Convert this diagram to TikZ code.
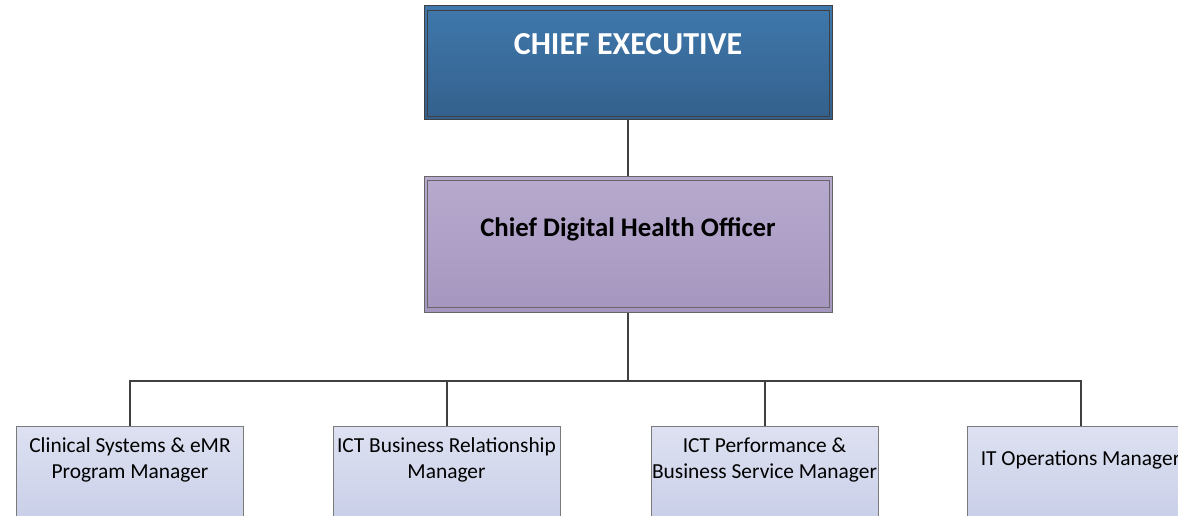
\documentclass[tikz,border=0pt]{standalone}
\usepackage{fontspec}
\setmainfont{Carlito}
\definecolor{lineg}{HTML}{404040}
\definecolor{ceTop}{HTML}{3F78AC}
\definecolor{ceBot}{HTML}{34608C}
\definecolor{cdTop}{HTML}{B7AACE}
\definecolor{cdBot}{HTML}{A596BF}
\definecolor{mgTop}{HTML}{DDE1F1}
\definecolor{mgBot}{HTML}{C6CCE7}
\definecolor{boxb}{HTML}{7A7A7A}
\tikzset{
  conn/.style={draw=lineg, line width=2pt},
  cebox/.style={draw=lineg, line width=1pt, top color=ceTop, bottom color=ceBot, minimum width=408pt, minimum height=114pt, inner sep=0pt},
  cdbox/.style={draw=lineg!80, line width=1pt, top color=cdTop, bottom color=cdBot, minimum width=408pt, minimum height=136pt, inner sep=0pt},
  inner/.style={draw=lineg, line width=0.9pt},
  mgbox/.style={draw=boxb, line width=0.8pt, top color=mgTop, bottom color=mgBot, minimum width=227pt, minimum height=110pt, inner sep=0pt},
  mgtext/.style={align=center, font=\fontsize{21.4pt}{25.5pt}\selectfont, inner sep=0pt},
}
\begin{document}
\begin{tikzpicture}[x=1pt,y=-1pt]
\useasboundingbox (0,0) rectangle (1178,516);
\clip (0,0) rectangle (1178,516);
% top boxes
\node[cebox] (ce) at (628,63) {};
\draw[inner] ([shift={(4pt,-5pt)}]ce.north west) rectangle ([shift={(-3pt,4pt)}]ce.south east);
\node[text=white, font=\fontsize{32pt}{36pt}\selectfont\bfseries] (cet) at (628,44.5) {CHIEF EXECUTIVE};
\node[cdbox] (cd) at (628,244) {};
\draw[inner, draw=lineg!80] ([shift={(4pt,-5pt)}]cd.north west) rectangle ([shift={(-3pt,5pt)}]cd.south east);
\node[text=black, font=\fontsize{26.8pt}{30pt}\selectfont\bfseries] (cdt) at (628,229) {Chief Digital Health Officer};
% manager boxes
\node[mgbox] (m1) at (130,481) {};
\node[mgbox] (m2) at (446.5,481) {};
\node[mgbox] (m3) at (764.5,481) {};
\node[mgbox] (m4) at (1080.5,481) {};
\node[mgtext] (t1) at (130,460) {Clinical Systems \& eMR\\Program Manager};
\node[mgtext] (t2) at (446.5,460) {ICT Business Relationship\\Manager};
\node[mgtext] (t3) at (764.5,460) {ICT Performance \&\\Business Service Manager};
\node[mgtext] (t4) at (1080.5,460) {IT Operations Manager};
% connectors
\coordinate (bus) at (628,381);
\draw[conn] (ce.south) -- (cd.north);
\draw[conn] (cd.south) -- (bus);
\draw[conn] (m1.north) |- (bus) -| (m4.north);
\draw[conn] (m2.north) -- (m2.north |- bus);
\draw[conn] (m3.north) -- (m3.north |- bus);
\end{tikzpicture}
\end{document}
